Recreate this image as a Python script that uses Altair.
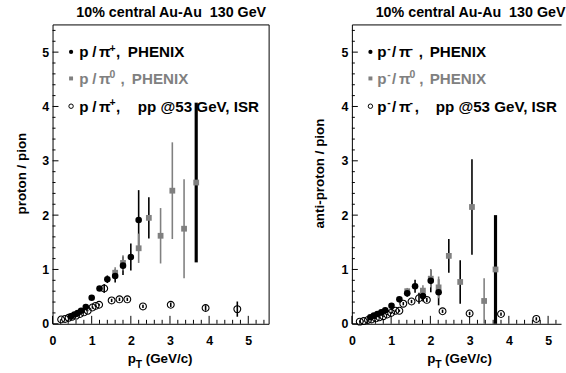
import altair as alt
import pandas as pd

# ---------------- data ----------------
# Left panel : proton / pion
L_ch_pt  = [0.47, 0.56, 0.64, 0.73, 0.85, 1.00, 1.20, 1.40, 1.60, 1.80, 2.00, 2.20]
L_ch_r   = [0.14, 0.17, 0.20, 0.24, 0.31, 0.48, 0.65, 0.82, 0.88, 1.07, 1.23, 1.91]
L_ch_err = [0.01, 0.01, 0.01, 0.02, 0.02, 0.03, 0.04, 0.07, 0.12, 0.17, 0.25, 0.55]

L_n_pt   = [1.60, 1.80, 2.20, 2.46, 2.76, 3.06, 3.36, 3.67]
L_n_r    = [0.94, 1.12, 1.39, 1.95, 1.62, 2.45, 1.75, 2.60]
L_n_err  = [0.10, 0.14, 0.27, 0.38, 0.51, 0.89, 0.91, 1.47]

L_pp_pt  = [0.22, 0.32, 0.41, 0.50, 0.60, 0.70, 0.80, 0.90, 1.02, 1.10, 1.19, 1.32,
            1.51, 1.71, 1.91, 2.31, 3.02, 3.91, 4.72]
L_pp_r   = [0.08, 0.09, 0.11, 0.13, 0.15, 0.18, 0.21, 0.24, 0.30, 0.33, 0.35, 0.65,
            0.43, 0.45, 0.45, 0.32, 0.35, 0.29, 0.27]
L_pp_err = [0.01, 0.01, 0.01, 0.01, 0.01, 0.01, 0.01, 0.01, 0.02, 0.02, 0.02, 0.08,
            0.03, 0.03, 0.03, 0.03, 0.04, 0.05, 0.14]

# Right panel : anti-proton / pion
R_ch_pt  = [0.47, 0.56, 0.65, 0.75, 0.85, 1.01, 1.21, 1.41, 1.61, 1.81, 2.01, 2.21]
R_ch_r   = [0.12, 0.15, 0.18, 0.21, 0.25, 0.33, 0.45, 0.56, 0.69, 0.51, 0.79, 0.58]
R_ch_err = [0.01, 0.01, 0.01, 0.02, 0.02, 0.03, 0.04, 0.06, 0.12, 0.10, 0.21, 0.24]

R_n_pt   = [1.41, 1.81, 2.01, 2.21, 2.47, 2.76, 3.06, 3.37, 3.66]
R_n_r    = [0.60, 0.61, 0.83, 0.67, 1.25, 0.77, 2.15, 0.42, 1.00]
R_n_err  = [0.06, 0.10, 0.16, 0.20, 0.31, 0.40, 0.88, 0.42, 1.00]

R_pp_pt  = [0.20, 0.30, 0.41, 0.50, 0.61, 0.70, 0.80, 0.90, 1.00, 1.11, 1.21, 1.31,
            1.52, 1.71, 1.91, 2.31, 3.00, 3.80, 4.70]
R_pp_r   = [0.04, 0.05, 0.07, 0.08, 0.10, 0.12, 0.14, 0.17, 0.20, 0.24, 0.24, 0.37,
            0.41, 0.47, 0.44, 0.23, 0.19, 0.18, 0.09]
R_pp_err = [0.01, 0.01, 0.01, 0.01, 0.01, 0.01, 0.01, 0.01, 0.02, 0.02, 0.02, 0.03,
            0.03, 0.10, 0.04, 0.03, 0.03, 0.03, 0.03]

# pi0 points whose uncertainty is drawn with the charged (black) line / the wide line
L_n_black = [2.46, 3.67]
L_n_wide = [3.67]
R_n_black = [2.47, 2.76, 3.06, 3.66]
R_n_wide = [3.66]

NB = "\u00a0"
TITLE = "10% central Au-Au" + NB + " 130 GeV"
L_YTITLE = "proton / pion"
R_YTITLE = "anti-proton / pion"
X_MAJOR = [0, 1, 2, 3, 4, 5]
Y_MAJOR = [0, 1, 2, 3, 4, 5]

# legend rows as text pieces: (text, x offset, "n" normal / "s" superscript)
PI = "\u03c0"
L_LEGEND = [
    [("p", 0, "n"), ("/", 13, "n"), (PI, 20, "n"), ("+", 30.5, "s"), (",", 37, "n"), ("PHENIX", 49, "n")],
    [("p", 0, "n"), ("/", 13, "n"), (PI, 20, "n"), ("0", 30.5, "s"), (",", 41.5, "n"), ("PHENIX", 53, "n")],
    [("p", 0, "n"), ("/", 13, "n"), (PI, 20, "n"), ("+", 30.5, "s"), (",", 37, "n"), ("pp @53 GeV, ISR", 59, "n")],
]
R_LEGEND = [
    [("p", 0, "n"), ("-", 10.2, "s"), ("/", 15, "n"), (PI, 22, "n"), ("-", 32.7, "s"), (",", 42, "n"), ("PHENIX", 53, "n")],
    [("p", 0, "n"), ("-", 10.2, "s"), ("/", 15, "n"), (PI, 22, "n"), ("0", 32.7, "s"), (",", 42.5, "n"), ("PHENIX", 53, "n")],
    [("p", 0, "n"), ("-", 10.2, "s"), ("/", 15, "n"), (PI, 22, "n"), ("-", 32.7, "s"), (",", 38, "n"), ("pp @53 GeV, ISR", 59, "n")],
]

# ---------------- style ----------------
FONT = "Liberation Sans"
GRAY = "#808080"
H = 302
Y_MAX = 5.51
Y_MINOR = [round(i * 0.2, 1) for i in range(28) if i % 5]

one = pd.DataFrame({"pt": [0.0], "r": [0.0]})


def panel(W, xmax, ch, neu, pp, n_black, n_wide, legend, ytitle, ytitle_x,
          leg_x, edge_x, right_frame):
    xs = alt.Scale(domain=[0, xmax], nice=False, zero=False)
    ys = alt.Scale(domain=[0, Y_MAX], nice=False, zero=False)
    x_minor = [round(i * 0.2, 1) for i in range(40) if i % 5 and i * 0.2 < xmax]

    rows = []
    for pt, r, e in zip(*ch):
        rows.append(dict(pt=pt, lo=max(r - e, 0), hi=r + e, c="k", w="thin"))
    for pt, r, e in zip(*neu):
        rows.append(dict(pt=pt, lo=max(r - e, 0), hi=r + e,
                         c="k" if pt in n_black else "g",
                         w="thick" if pt in n_wide else "thin"))
    for pt, r, e in zip(*pp):
        rows.append(dict(pt=pt, lo=max(r - e, 0), hi=r + e, c="k", w="thin"))
    err_df = pd.DataFrame(rows)
    ch_df = pd.DataFrame({"pt": ch[0], "r": ch[1]})
    n_df = pd.DataFrame({"pt": neu[0], "r": neu[1]})
    pp_df = pd.DataFrame({"pt": pp[0], "r": pp[1]})

    x_main = alt.Axis(orient="bottom", values=X_MAJOR, format="d", ticks=False, tickSize=0,
                      labelPadding=11, labelFont=FONT, labelFontSize=12.5,
                      labelFontWeight="bold", labelColor="black", labelFlush=False,
                      labelOverlap=False, domain=True, domainColor="black",
                      domainWidth=1, grid=False, title=None)
    y_main = alt.Axis(orient="left", values=Y_MAJOR, format="d", ticks=False, tickSize=0,
                      labelPadding=4, labelFont=FONT, labelFontSize=12.5,
                      labelFontWeight="bold", labelColor="black", labelFlush=False,
                      labelOverlap=False, domain=True, domainColor="black",
                      domainWidth=1, grid=False, title=ytitle, titleFont=FONT,
                      titleFontSize=13.5, titleFontWeight="bold", titleColor="black",
                      titleAngle=270, titleAlign="center", titleBaseline="alphabetic",
                      titleX=ytitle_x, titleY=150)

    err = alt.Chart(err_df).mark_rule().encode(
        x=alt.X("pt:Q", scale=xs, axis=x_main),
        y=alt.Y("lo:Q", scale=ys, axis=y_main),
        y2="hi:Q",
        color=alt.Color("c:N", scale=alt.Scale(domain=["k", "g"], range=["black", GRAY]), legend=None),
        strokeWidth=alt.StrokeWidth("w:N", scale=alt.Scale(domain=["thin", "thick"], range=[1.6, 3.2]), legend=None),
    )
    opn = alt.Chart(pp_df).mark_point(shape="circle", filled=False, size=48, color="black",
                                      strokeWidth=1.1, opacity=1).encode(
        x=alt.X("pt:Q", scale=xs, axis=None), y=alt.Y("r:Q", scale=ys, axis=None))
    sq = alt.Chart(n_df).mark_square(size=34, color=GRAY, opacity=1).encode(
        x=alt.X("pt:Q", scale=xs, axis=None), y=alt.Y("r:Q", scale=ys, axis=None))
    blk = alt.Chart(ch_df).mark_circle(size=44, color="black", opacity=1).encode(
        x=alt.X("pt:Q", scale=xs, axis=None), y=alt.Y("r:Q", scale=ys, axis=None))

    # inward ticks, placed through the scales
    def xticks(vals, length):
        return alt.Chart(pd.DataFrame({"v": vals})).mark_rule(color="black", strokeWidth=1).encode(
            x=alt.X("v:Q", scale=xs, axis=None), y=alt.value(H), y2=alt.value(H - length))

    def yticks(vals, length):
        return alt.Chart(pd.DataFrame({"v": vals})).mark_rule(color="black", strokeWidth=1).encode(
            y=alt.Y("v:Q", scale=ys, axis=None), x=alt.value(0), x2=alt.value(length))

    tick_layers = [xticks(X_MAJOR, 8), xticks(x_minor, 4), yticks(Y_MAJOR, 6), yticks(Y_MINOR, 3)]

    frame = alt.Chart(one).mark_point(opacity=0).encode(
        x=alt.X("pt:Q", scale=xs, axis=alt.Axis(orient="top", ticks=False, labels=False,
                domain=True, domainColor="black", domainWidth=1, grid=False, title=None)),
        y=alt.Y("r:Q", scale=ys, axis=(alt.Axis(orient="right", ticks=False, labels=False,
                domain=True, domainColor="black", domainWidth=1, grid=False, title=None)
                if right_frame else None)))

    def txt(s, x, y, size, color="black", baseline="alphabetic"):
        return alt.Chart(one).mark_text(text=s, font=FONT, fontSize=size, fontWeight="bold",
                                        align="left", baseline=baseline, color=color).encode(
            x=alt.value(x), y=alt.value(y))

    title = txt(TITLE, 24, -8, 14.4)
    xt1 = txt("p", 76, 341.5, 13.5)
    xt2 = txt("T", 84, 346.5, 10.5)
    xt3 = txt("(GeV/c)", 94, 341.5, 13.5)

    rows_y = [27.7, 54.5, 82.5]
    fs, fsup = 15.3, 10.5
    leg = []
    for i, row in enumerate(legend):
        col = GRAY if i == 1 else "black"
        base = rows_y[i] + 5.5
        for s, dx, kind in row:
            if kind == "n":
                leg.append(txt(s, leg_x + dx, base, fs, color=col))
            else:
                leg.append(txt(s, leg_x + dx, base - 5.5, fsup, color=col))
    leg += [
        alt.Chart(one).mark_circle(size=18, color="black", opacity=1).encode(
            x=alt.value(18.7), y=alt.value(rows_y[0])),
        alt.Chart(one).mark_square(size=16, color=GRAY, opacity=1).encode(
            x=alt.value(18.7), y=alt.value(rows_y[1])),
        alt.Chart(one).mark_point(shape="circle", filled=False, size=20, color="black",
                                  strokeWidth=1, opacity=1).encode(
            x=alt.value(18.7), y=alt.value(rows_y[2])),
    ]
    edge = alt.Chart(one).mark_rule(opacity=0, strokeWidth=1).encode(
        x=alt.value(edge_x), y=alt.value(-22.5), y2=alt.value(349.5))

    return alt.layer(err, opn, sq, blk, *tick_layers, frame, title, xt1, xt2, xt3,
                     *leg, edge).resolve_axis(x="independent", y="independent").properties(
        width=W, height=H)


left = panel(218, 5.52, (L_ch_pt, L_ch_r, L_ch_err), (L_n_pt, L_n_r, L_n_err),
             (L_pp_pt, L_pp_r, L_pp_err), L_n_black, L_n_wide, L_LEGEND, L_YTITLE, -27,
             27, -52.5, True)
right = panel(211, 5.33, (R_ch_pt, R_ch_r, R_ch_err), (R_n_pt, R_n_r, R_n_err),
              (R_pp_pt, R_pp_r, R_pp_err), R_n_black, R_n_wide, R_LEGEND, R_YTITLE, -29,
              25.5, 210.5, False)

chart = alt.hconcat(left, right, spacing=84, bounds="flush").configure_view(
    stroke=None).properties(padding=0, background="white")

chart.save("out.html", embed_options={"renderer": "svg", "actions": False})
